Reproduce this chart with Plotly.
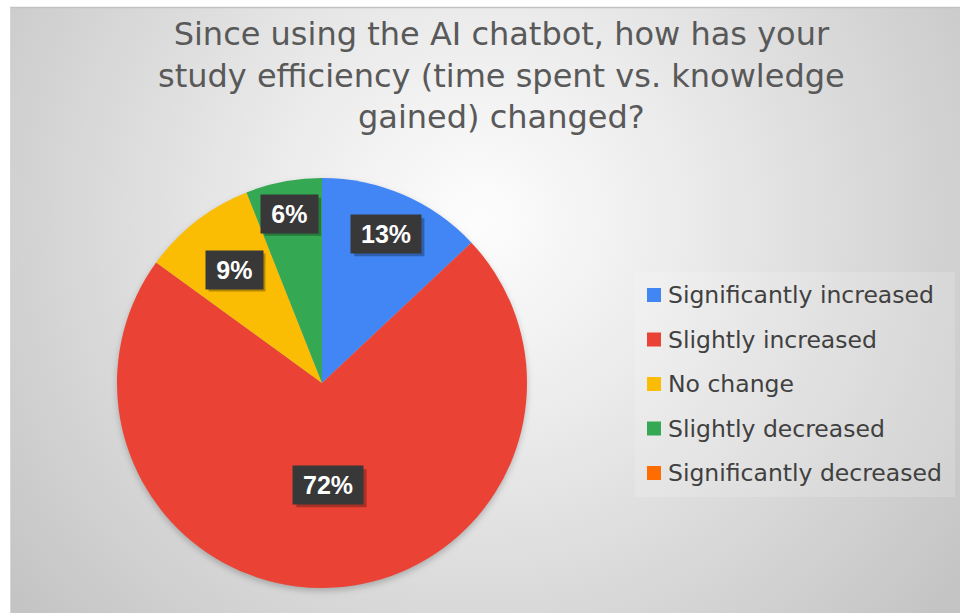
import base64
import math
import plotly.graph_objects as go

# ---- data ----
categories = [
    "Significantly increased",
    "Slightly increased",
    "No change",
    "Slightly decreased",
    "Significantly decreased",
]
shares = [13, 72, 9, 6, 0]
colors = ["#4285F4", "#EA4335", "#FBBC04", "#34A853", "#FF6D01"]
title_lines = [
    "Since using the AI chatbot, how has your",
    "study efficiency (time spent vs. knowledge",
    "gained) changed?",
]

# ---- layout constants ----
W, H = 960, 613
PIE_X = [117 / W, 527 / W]
PIE_Y = [25 / H, 435 / H]
label_radius = [0.79, 0.50, 0.70, 0.84, 0.8]   # radial placement of each data label

# pie geometry in pixels (derived from the domain)
cx = (PIE_X[0] + PIE_X[1]) / 2 * W
cy = (1 - (PIE_Y[0] + PIE_Y[1]) / 2) * H
R = min((PIE_X[1] - PIE_X[0]) * W, (PIE_Y[1] - PIE_Y[0]) * H) / 2

# ---- background: radial grey gradient panel + soft pie shadow ----
svg = f"""<svg xmlns="http://www.w3.org/2000/svg" width="{W}" height="{H}" viewBox="0 0 {W} {H}">
<defs>
<radialGradient id="bg" gradientUnits="userSpaceOnUse" cx="480" cy="220" r="600">
<stop offset="0" stop-color="#fdfdfd"/>
<stop offset="0.35" stop-color="#ebebeb"/>
<stop offset="1" stop-color="#c4c4c4"/>
</radialGradient>
<filter id="blur" x="-20%" y="-20%" width="140%" height="140%"><feGaussianBlur stdDeviation="3"/></filter>
</defs>
<rect x="0" y="0" width="{W}" height="{H}" fill="#ffffff"/>
<rect x="10" y="7" width="{W-10}" height="{H-7}" fill="url(#bg)"/>
<line x1="10" y1="7.5" x2="{W}" y2="7.5" stroke="#c2c2c2" stroke-width="1.5"/>
<line x1="10.5" y1="7" x2="10.5" y2="{H}" stroke="#d6d6d6" stroke-width="1"/>
<circle cx="{cx:.1f}" cy="{cy + 3:.1f}" r="{R:.1f}" fill="#000000" fill-opacity="0.22" filter="url(#blur)"/>
</svg>"""
bg_uri = "data:image/svg+xml;base64," + base64.b64encode(svg.encode()).decode()

fig = go.Figure()
fig.add_trace(go.Pie(
    labels=categories,
    values=shares,
    marker=dict(colors=colors, line=dict(width=0)),
    sort=False,
    direction="clockwise",
    rotation=0,
    textinfo="none",
    hoverinfo="label+percent",
    domain=dict(x=PIE_X, y=PIE_Y),
    showlegend=False,
))

annotations = []
shapes = []

# ---- data labels: dark boxes with a drop shadow ----
total = sum(shares)
cum = 0
for i, v in enumerate(shares):
    mid = (cum + v / 2) / total * 2 * math.pi
    cum += v
    if v == 0:
        continue
    r = label_radius[i] * R
    px = cx + r * math.sin(mid)
    py = cy - r * math.cos(mid)
    txt = f"{v}%"
    digits = len(txt) - 1
    bw = 22 + 13.4 * digits + 21.4
    bh = 38
    shapes.append(dict(
        type="rect", xref="paper", yref="paper",
        x0=(px - bw / 2 + 3) / W, x1=(px + bw / 2 + 3) / W,
        y0=1 - (py + bh / 2 + 3) / H, y1=1 - (py - bh / 2 + 3) / H,
        fillcolor="rgba(0,0,0,0.28)", line=dict(width=0)))
    annotations.append(dict(
        text=f"<b>{txt}</b>", x=px / W, y=1 - py / H, xref="paper", yref="paper",
        showarrow=False, width=bw, height=bh, borderpad=0,
        xanchor="center", yanchor="middle",
        font=dict(family="Liberation Sans", size=25, color="#ffffff"),
        bgcolor="#383838"))

# ---- legend ----
shapes.append(dict(type="rect", xref="paper", yref="paper",
                   x0=635 / W, x1=955 / W, y0=1 - 497 / H, y1=1 - 272 / H,
                   fillcolor="rgba(255,255,255,0.16)", line=dict(width=0), layer="below"))
for i, (name, col) in enumerate(zip(categories, colors)):
    yc = 295 + i * 44.5
    shapes.append(dict(type="rect", xref="paper", yref="paper",
                       x0=647 / W, x1=661 / W, y0=1 - (yc + 7) / H, y1=1 - (yc - 7) / H,
                       fillcolor=col, line=dict(width=0)))
    annotations.append(dict(
        text=name, x=666 / W, y=1 - yc / H, xref="paper", yref="paper",
        xanchor="left", yanchor="middle", showarrow=False,
        font=dict(family="DejaVu Sans", size=23.5, color="#404040")))

# ---- title ----
annotations.append(dict(
    text="<br>".join(title_lines),
    x=501 / W, y=1 - 13 / H, xref="paper", yref="paper",
    xanchor="center", yanchor="top", align="center", showarrow=False,
    font=dict(family="DejaVu Sans", size=32, color="#595959")))

fig.update_layout(
    width=W, height=H, autosize=False,
    margin=dict(l=0, r=0, t=0, b=0),
    paper_bgcolor="#ffffff",
    images=[dict(source=bg_uri, xref="paper", yref="paper", x=0, y=1,
                 sizex=1, sizey=1, sizing="stretch", xanchor="left", yanchor="top",
                 layer="below")],
    annotations=annotations,
    shapes=shapes,
)

fig.write_html("out.html")
